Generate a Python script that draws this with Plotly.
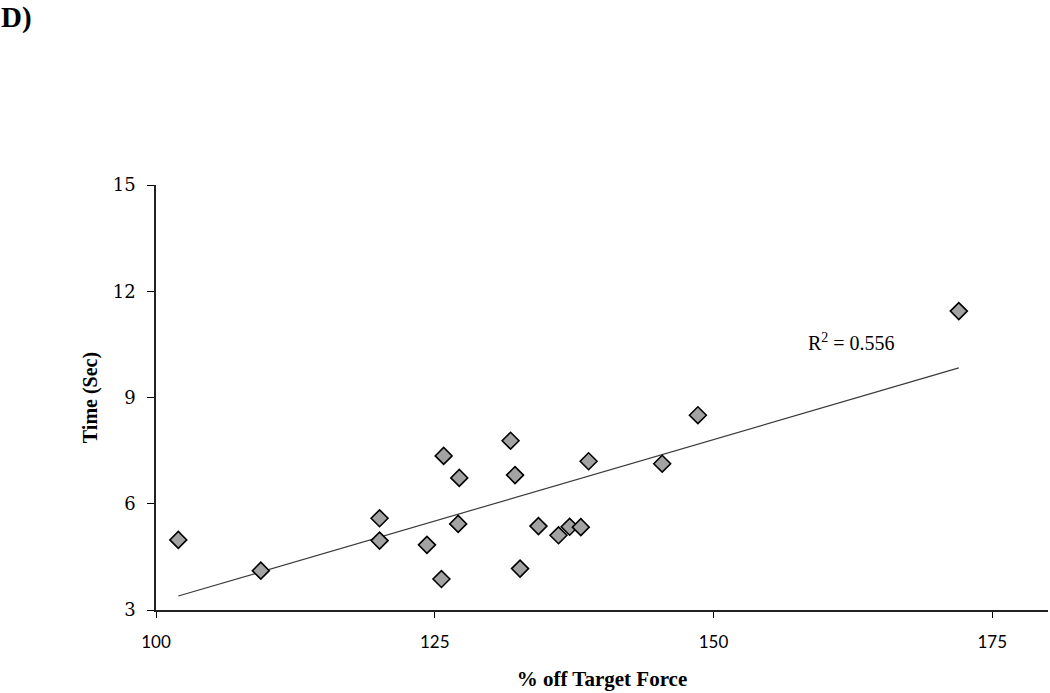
import numpy as np
import plotly.graph_objects as go

# Data
pct_off_target = [102.0, 109.4, 120.05, 120.05, 124.3, 125.6, 125.8, 127.1, 127.2,
                  131.8, 132.2, 132.65, 134.3, 136.1, 137.1, 138.1, 138.8, 145.4,
                  148.6, 172.0]
time_sec = [4.98, 4.11, 5.59, 4.96, 4.84, 3.875, 7.35, 5.43, 6.73,
            7.78, 6.81, 4.17, 5.37, 5.11, 5.35, 5.34, 7.2, 7.13,
            8.5, 11.44]
x_ticks = [100, 125, 150, 175]
y_ticks = [3, 6, 9, 12, 15]
r2_label = "R<sup>2</sup> = 0.556"
panel_label = "D)"

x = np.array(pct_off_target)
y = np.array(time_sec)
slope, intercept = np.polyfit(x, y, 1)
x_fit = np.array([x.min(), x.max()])
y_fit = slope * x_fit + intercept

fig = go.Figure()
fig.add_trace(go.Scatter(
    x=x_fit.tolist(), y=y_fit.tolist(), mode="lines",
    line=dict(color="#3a3a3a", width=1.2), showlegend=False, hoverinfo="skip"))
fig.add_trace(go.Scatter(
    x=pct_off_target, y=time_sec, mode="markers",
    marker=dict(symbol="diamond", size=13, color="#a3a3a3",
                line=dict(color="#000000", width=1.6)),
    showlegend=False))

fig.add_annotation(x=162.4, y=10.57, xref="x", yref="y", text=r2_label,
                   showarrow=False, font=dict(family="Liberation Serif", size=20, color="#000"))
fig.add_annotation(x=(-1 - 156) / 892, y=(693 - 17 - 83) / 425, xref="paper", yref="paper",
                   text="<b>" + panel_label + "</b>", showarrow=False, xanchor="left", yanchor="middle",
                   font=dict(family="Liberation Serif", size=29, color="#000"))

fig.update_layout(
    width=1050, height=693,
    margin=dict(l=156, r=2, t=185, b=83),
    paper_bgcolor="white", plot_bgcolor="white",
    xaxis=dict(range=[100, 180], tickvals=x_ticks, ticks="outside", ticklen=6,
               tickcolor="#000", showline=True, linecolor="#222", linewidth=1.5,
               showgrid=False, zeroline=False, ticklabelstandoff=10,
               tickfont=dict(family="Lato", size=17, color="#000"),
               title=dict(text="<b>% off Target Force</b>", standoff=20,
                          font=dict(family="Liberation Serif", size=21, color="#000"))),
    yaxis=dict(range=[3, 15], tickvals=y_ticks, ticks="outside", ticklen=7,
               tickcolor="#000", showline=True, linecolor="#222", linewidth=1.5,
               showgrid=False, zeroline=False, ticklabelstandoff=8,
               tickfont=dict(family="DejaVu Serif", size=18, color="#000"),
               title=dict(text="<b>Time (Sec)</b>", standoff=10,
                          font=dict(family="Liberation Serif", size=20, color="#000"))),
)

fig.write_html("out.html", config={"displayModeBar": False},
               post_script="document.body.style.margin='0';document.body.style.overflow='hidden';")
